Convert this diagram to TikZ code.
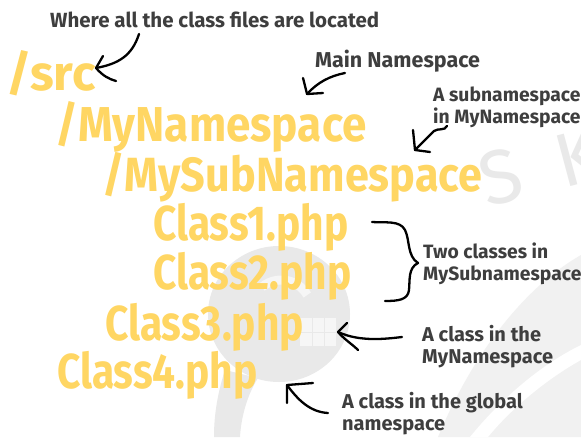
\documentclass[tikz,border=0pt]{standalone}
\usepackage{fontspec}
\newfontfamily\handfont{Fira Sans}[FakeStretch=0.83]
\newfontfamily\handwide{Fira Sans}[FakeStretch=0.9]
\newfontfamily\notefont{Fira Sans}
\definecolor{pathyellow}{HTML}{FFD663}
\definecolor{notegray}{HTML}{3E3E3E}
\definecolor{wmgray}{HTML}{E9E9E9}
\definecolor{wmpale}{HTML}{F1F1F1}
\definecolor{wmlight}{HTML}{F6F6F6}
\tikzset{
  pathtext/.style={anchor=base west, inner sep=0pt, text=pathyellow,
    font=\handfont\bfseries\fontsize{49}{49}\selectfont},
  pathwide/.style={pathtext, font=\handwide\bfseries\fontsize{49}{49}\selectfont},
  note/.style={anchor=base west, inner sep=0pt, text=notegray, align=left,
    font=\notefont\bfseries\fontsize{20}{22}\selectfont},
  notesmall/.style={note, font=\notefont\bfseries\fontsize{19.3}{22}\selectfont},
  ink/.style={line width=2.3pt, line cap=round, line join=round, black},
  wmletter/.style={inner sep=0pt, text=wmgray,
    font=\notefont\fontsize{76}{76}\selectfont}
}
\begin{document}
\begin{tikzpicture}[x=1pt,y=-1pt]
\useasboundingbox (0,0) rectangle (581,437);
\fill[white] (0,0) rectangle (581,437);

% faint logo in the background
\fill[wmpale] (438,437) .. controls (470,360) and (520,290) .. (581,255)
  -- (581,437) -- cycle;
\fill[white] (470,437) .. controls (500,400) and (540,365) .. (581,345)
  -- (581,360) .. controls (545,380) and (510,410) .. (488,437) -- cycle;
\fill[wmgray] (225,370) .. controls (216,398) and (214,420) .. (214,437)
  -- (240,437) .. controls (241,418) and (247,395) .. (258,378) -- cycle;
\fill[wmgray] (279,314) ellipse (71 and 68);
\draw[wmlight, line width=9pt] (262,287) arc (230:330:30);
\fill[wmlight] (300,318) rectangle (336,346);
\draw[wmgray, line width=0.8pt] (312,318) -- (312,346) (324,318) -- (324,346)
  (300,332) -- (336,332);
\node[wmletter, rotate=15] (wmS) at (501,177) {S};
\node[wmletter, rotate=15] (wmK) at (578,157) {K};

% directory tree
\node[pathtext, font=\notefont\bfseries\fontsize{49}{49}\selectfont]
  (src) at (6,90) {/src};
\node[pathwide] (ns)  at (55,141) {/MyNamespace};
\node[pathwide, font=\handwide\bfseries\fontsize{48}{48}\selectfont]
  (sub) at (102,191) {/MySubNamespace};
\node[pathtext] (c1)  at (153,240) {Class1.php};
\node[pathtext] (c2)  at (153,289) {Class2.php};
\node[pathtext] (c3)  at (105,340) {Class3.php};
\node[pathtext] (c4)  at (57,388) {Class4.php};

% annotations (multi-line nodes sit on the baseline of their last line)
\node[note, font=\notefont\bfseries\fontsize{20.5}{22}\selectfont]
  (lsrc) at (50,27) {Where all the class files are located};
\node[note, font=\notefont\bfseries\fontsize{21.5}{22}\selectfont]
  (lns) at (315,67) {Main Namespace};
\node[notesmall] (lsub) at (433,123) {A subnamespace\\in MyNamespace};
\node[notesmall] (ltwo) at (423,280) {Two classes in\\MySubnamespace};
\node[note] (lc3)  at (422,363) {A class in the\\MyNamespace};
\node[note] (lc4)  at (342,430) {A class in the global\\namespace};

% arrow ends
\coordinate (a1s) at (139,34);  \coordinate (a1t) at (96,68);
\coordinate (a2s) at (345,73);  \coordinate (a2t) at (307,94);
\coordinate (a3s) at (447,126); \coordinate (a3t) at (415,150);
\coordinate (a5s) at (402,337); \coordinate (a5t) at (338,332);
\coordinate (a6s) at (328,413); \coordinate (a6t) at (287,385);

% hand drawn arrows
\draw[ink] (a1s) .. controls (132,56) and (118,64) .. (a1t);
\draw[ink] (103,56) -- (a1t) .. controls (103,76) and (109,79) .. (116,81);
\draw[ink] (a2s) .. controls (330,76) and (318,82) .. (a2t);
\draw[ink] (303,78) -- (a2t) -- (323,93);
\draw[ink] (a3s) .. controls (445,131) and (438,128) .. (434,131) -- (a3t);
\draw[ink] (413,130) -- (a3t) -- (430,152);
\draw[ink] (a5s) .. controls (385,339) and (360,342) .. (a5t);
\draw[ink] (347,323) -- (a5t) .. controls (345,340) and (352,344) .. (358,350);
\draw[ink] (a6s) .. controls (310,412) and (298,400) .. (a6t);
\draw[ink] (287,403) -- (a6t) -- (313,383);

% curly brace next to the two classes
\draw[ink] (372,222) .. controls (385,223) and (400,220) .. (405,230)
  .. controls (410,240) and (407,256) .. (418,263)
  .. controls (408,268) and (410,280) .. (409,290)
  .. controls (408,300) and (398,301) .. (385,301);
\end{tikzpicture}
\end{document}
